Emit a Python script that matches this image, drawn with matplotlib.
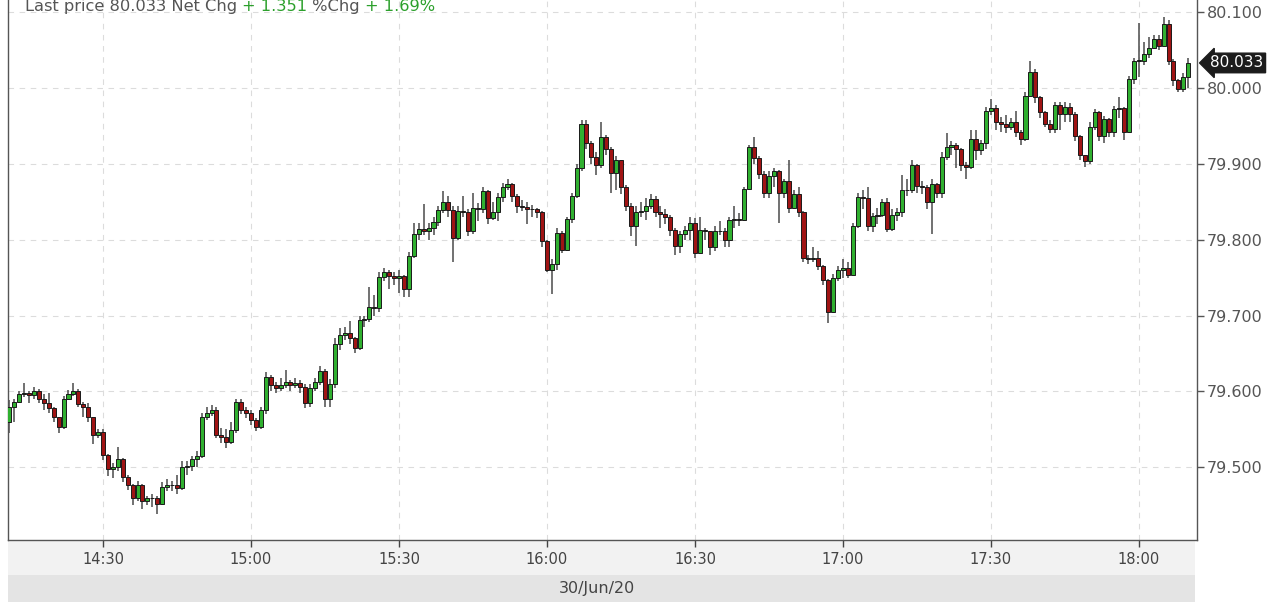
import matplotlib
matplotlib.use("Agg")
import matplotlib.pyplot as plt
import matplotlib.dates as mdates
from matplotlib.patches import Rectangle
import numpy as np
import pandas as pd

# 1-minute candles, 30/Jun/20, starting 14:11
start = "2020-06-30 14:11"
first_open = 79.560

close = [
    79.580, 79.586, 79.596, 79.598, 79.595, 79.600, 79.590, 79.584, 79.578, 79.566,
    79.553, 79.590, 79.597, 79.600, 79.583, 79.580, 79.566, 79.543, 79.546, 79.516,
    79.498, 79.500, 79.511, 79.487, 79.476, 79.459, 79.476, 79.455, 79.460, 79.459,
    79.452, 79.474, 79.477, 79.476, 79.473, 79.500, 79.501, 79.511, 79.515, 79.566,
    79.572, 79.575, 79.542, 79.540, 79.533, 79.549, 79.586, 79.575, 79.572, 79.562,
    79.553, 79.575, 79.619, 79.608, 79.605, 79.608, 79.612, 79.608, 79.611, 79.606,
    79.585, 79.605, 79.612, 79.627, 79.590, 79.610, 79.663, 79.674, 79.677, 79.670,
    79.657, 79.694, 79.696, 79.711, 79.710, 79.751, 79.758, 79.752, 79.750, 79.752,
    79.735, 79.779, 79.808, 79.814, 79.812, 79.815, 79.823, 79.839, 79.850, 79.839,
    79.802, 79.838, 79.837, 79.812, 79.842, 79.840, 79.864, 79.829, 79.836, 79.856,
    79.870, 79.873, 79.858, 79.845, 79.843, 79.841, 79.840, 79.836, 79.798, 79.760,
    79.768, 79.809, 79.787, 79.827, 79.858, 79.895, 79.953, 79.927, 79.909, 79.898,
    79.935, 79.920, 79.888, 79.905, 79.870, 79.845, 79.818, 79.836, 79.838, 79.844,
    79.853, 79.836, 79.834, 79.830, 79.813, 79.791, 79.807, 79.813, 79.822, 79.782,
    79.813, 79.811, 79.790, 79.811, 79.812, 79.800, 79.826, 79.827, 79.826, 79.867,
    79.922, 79.908, 79.887, 79.862, 79.884, 79.890, 79.862, 79.878, 79.842, 79.860,
    79.836, 79.776, 79.775, 79.776, 79.765, 79.747, 79.705, 79.750, 79.760, 79.762,
    79.754, 79.818, 79.856, 79.855, 79.818, 79.831, 79.832, 79.849, 79.814, 79.832,
    79.836, 79.865, 79.866, 79.898, 79.871, 79.870, 79.850, 79.873, 79.862, 79.909,
    79.922, 79.925, 79.919, 79.898, 79.896, 79.933, 79.918, 79.928, 79.970, 79.974,
    79.955, 79.952, 79.948, 79.955, 79.942, 79.933, 79.990, 80.021, 79.988, 79.968,
    79.953, 79.946, 79.977, 79.966, 79.975, 79.966, 79.937, 79.911, 79.904, 79.948,
    79.968, 79.937, 79.959, 79.942, 79.972, 79.973, 79.942, 80.012, 80.036, 80.036,
    80.045, 80.053, 80.064, 80.056, 80.084, 80.036, 80.010, 79.999, 80.014, 80.033,
]

high = [
    79.588, 79.590, 79.600, 79.611, 79.600, 79.606, 79.603, 79.596, 79.598, 79.580,
    79.566, 79.594, 79.602, 79.611, 79.603, 79.586, 79.584, 79.566, 79.550, 79.550,
    79.518, 79.505, 79.527, 79.512, 79.490, 79.478, 79.482, 79.478, 79.462, 79.465,
    79.462, 79.480, 79.485, 79.482, 79.490, 79.508, 79.508, 79.515, 79.522, 79.572,
    79.580, 79.582, 79.580, 79.552, 79.550, 79.560, 79.590, 79.590, 79.580, 79.575,
    79.565, 79.580, 79.625, 79.622, 79.612, 79.618, 79.628, 79.615, 79.618, 79.615,
    79.610, 79.610, 79.618, 79.633, 79.630, 79.616, 79.670, 79.683, 79.685, 79.693,
    79.672, 79.700, 79.700, 79.738, 79.727, 79.757, 79.763, 79.760, 79.757, 79.760,
    79.753, 79.784, 79.822, 79.822, 79.847, 79.822, 79.830, 79.845, 79.864, 79.858,
    79.845, 79.845, 79.858, 79.840, 79.862, 79.848, 79.870, 79.866, 79.850, 79.862,
    79.875, 79.880, 79.875, 79.860, 79.852, 79.850, 79.846, 79.842, 79.838, 79.800,
    79.775, 79.815, 79.812, 79.830, 79.862, 79.900, 79.958, 79.958, 79.930, 79.915,
    79.955, 79.938, 79.922, 79.910, 79.905, 79.872, 79.848, 79.845, 79.850, 79.855,
    79.860, 79.858, 79.845, 79.840, 79.832, 79.815, 79.812, 79.818, 79.830, 79.828,
    79.830, 79.816, 79.812, 79.818, 79.825, 79.815, 79.830, 79.845, 79.835, 79.870,
    79.925, 79.935, 79.910, 79.890, 79.890, 79.895, 79.892, 79.880, 79.905, 79.865,
    79.870, 79.838, 79.780, 79.790, 79.785, 79.767, 79.748, 79.755, 79.765, 79.775,
    79.770, 79.822, 79.862, 79.865, 79.870, 79.835, 79.842, 79.853, 79.855, 79.840,
    79.842, 79.885, 79.880, 79.905, 79.900, 79.878, 79.872, 79.880, 79.875, 79.915,
    79.940, 79.930, 79.928, 79.921, 79.903, 79.945, 79.945, 79.932, 79.975, 79.985,
    79.978, 79.962, 79.965, 79.960, 79.970, 79.945, 79.995, 80.035, 80.025, 79.990,
    79.970, 79.958, 79.982, 79.982, 79.982, 79.980, 79.968, 79.938, 79.912, 79.955,
    79.972, 79.970, 79.963, 79.960, 79.976, 79.988, 79.975, 80.016, 80.040, 80.086,
    80.060, 80.067, 80.070, 80.070, 80.093, 80.090, 80.038, 80.012, 80.020, 80.040,
]

low = [
    79.545, 79.560, 79.584, 79.592, 79.585, 79.590, 79.585, 79.576, 79.572, 79.560,
    79.545, 79.550, 79.588, 79.594, 79.580, 79.566, 79.560, 79.530, 79.538, 79.510,
    79.488, 79.486, 79.495, 79.480, 79.470, 79.450, 79.455, 79.445, 79.450, 79.448,
    79.438, 79.450, 79.468, 79.468, 79.465, 79.470, 79.490, 79.495, 79.500, 79.512,
    79.562, 79.568, 79.538, 79.532, 79.525, 79.530, 79.545, 79.570, 79.565, 79.555,
    79.548, 79.550, 79.570, 79.600, 79.598, 79.600, 79.604, 79.600, 79.604, 79.598,
    79.578, 79.580, 79.600, 79.608, 79.580, 79.580, 79.605, 79.655, 79.668, 79.662,
    79.650, 79.655, 79.685, 79.692, 79.700, 79.705, 79.745, 79.735, 79.740, 79.730,
    79.725, 79.725, 79.776, 79.800, 79.806, 79.800, 79.806, 79.818, 79.835, 79.830,
    79.771, 79.800, 79.830, 79.805, 79.808, 79.825, 79.835, 79.820, 79.826, 79.825,
    79.850, 79.865, 79.850, 79.835, 79.838, 79.820, 79.830, 79.828, 79.790, 79.757,
    79.728, 79.760, 79.782, 79.785, 79.822, 79.855, 79.890, 79.920, 79.900, 79.885,
    79.895, 79.912, 79.862, 79.865, 79.860, 79.838, 79.805, 79.791, 79.830, 79.826,
    79.840, 79.830, 79.815, 79.820, 79.805, 79.780, 79.782, 79.800, 79.800, 79.776,
    79.782, 79.800, 79.780, 79.785, 79.806, 79.790, 79.790, 79.815, 79.818, 79.825,
    79.865, 79.900, 79.880, 79.855, 79.855, 79.870, 79.822, 79.855, 79.835, 79.840,
    79.830, 79.770, 79.768, 79.770, 79.760, 79.740, 79.690, 79.703, 79.745, 79.750,
    79.750, 79.752, 79.815, 79.840, 79.812, 79.810, 79.820, 79.830, 79.810, 79.812,
    79.825, 79.830, 79.858, 79.862, 79.862, 79.860, 79.840, 79.808, 79.855, 79.855,
    79.905, 79.912, 79.895, 79.890, 79.880, 79.893, 79.905, 79.912, 79.920, 79.965,
    79.945, 79.942, 79.940, 79.945, 79.936, 79.925, 79.930, 79.990, 79.980, 79.960,
    79.948, 79.940, 79.940, 79.945, 79.955, 79.955, 79.930, 79.905, 79.896, 79.900,
    79.945, 79.930, 79.928, 79.935, 79.935, 79.960, 79.932, 79.940, 80.005, 80.014,
    80.030, 80.040, 80.052, 80.050, 80.055, 80.030, 80.002, 79.995, 79.995, 80.000,
]

yticks = [79.5, 79.6, 79.7, 79.8, 79.9, 80.0, 80.1]
xtick_times = ["14:30", "15:00", "15:30", "16:00", "16:30", "17:00", "17:30", "18:00"]
last_price = 80.033
header = [("Last price 80.033 Net Chg ", "#555555"), ("+ 1.351", "#2ca02c"),
          (" %Chg ", "#555555"), ("+ 1.69%", "#2ca02c")]
date_label = "30/Jun/20"

# ---------------------------------------------------------------
c = np.array(close)
o = np.concatenate([[first_open], c[:-1]])
h = np.maximum(np.array(high), np.maximum(o, c))
l = np.minimum(np.array(low), np.minimum(o, c))
t = mdates.date2num(pd.date_range(start, periods=len(c), freq="1min"))

W, H = 1280, 605
fig = plt.figure(figsize=(W / 100, H / 100), dpi=100)
fig.patch.set_facecolor("white")

# x-axis area backgrounds (behind the axes)
fig.patches.append(Rectangle((8 / W, 1 - 575 / H), (1195 - 8) / W, 35 / H,
                             transform=fig.transFigure, fc="#f2f2f2", ec="none", zorder=-5))
fig.patches.append(Rectangle((8 / W, 1 - 602 / H), (1195 - 8) / W, 27 / H,
                             transform=fig.transFigure, fc="#e4e4e4", ec="none", zorder=-5))

ax = fig.add_axes([8 / W, 1 - 540 / H, (1197 - 8) / W, 540 / H])
ax.set_facecolor("white")

day0 = mdates.date2num(pd.Timestamp("2020-06-30"))
minute = 1 / 1440
ax.set_xlim(day0 + 850.74 * minute, day0 + 1091.77 * minute)
ax.set_ylim(79.404, 80.116)

up = c >= o
green = "#30b030"
red = "#a01414"
edge = "#1a1a1a"

ax.vlines(t, l, h, color="#4a4a4a", linewidth=1.1, zorder=2)
body = np.maximum(np.abs(c - o), 0.0007)
bottom = np.minimum(o, c)
colors = np.where(up, green, red)
ax.bar(t, body, bottom=bottom, width=0.82 * minute, color=colors,
       edgecolor=edge, linewidth=0.7, zorder=3)

# grid
ax.set_yticks(yticks)
xt = [mdates.date2num(pd.Timestamp("2020-06-30 " + s)) for s in xtick_times]
ax.set_xticks(xt)
ax.set_xticklabels(xtick_times)
ax.set_yticklabels([f"{v:.3f}" for v in yticks])
ax.grid(True, color="#dcdcdc", linestyle=(0, (5, 5)), linewidth=0.8, zorder=0)

ax.yaxis.tick_right()
ax.tick_params(axis="y", colors="#555555", labelsize=11.5, length=5, pad=2, width=1)
ax.tick_params(axis="x", colors="#444444", labelsize=10.5, length=5, pad=4, width=1)

for side in ["left", "bottom", "right"]:
    ax.spines[side].set_color("#555555")
    ax.spines[side].set_linewidth(1.0)
ax.spines["top"].set_visible(False)

# last price tag
ax.text(1.0 + 13 / (1197 - 8), last_price, f"{last_price:.3f}",
        transform=ax.get_yaxis_transform(),
        color="white", fontsize=11, va="center", ha="left",
        bbox=dict(boxstyle="larrow,pad=0.15", fc="#1c1c1c", ec="#1c1c1c"),
        zorder=5, clip_on=False)

# date band label
fig.text(597 / W, 1 - 589 / H, date_label, ha="center", va="center",
         fontsize=11.5, color="#444444")

# header (partially cut by top edge)
renderer = fig.canvas.get_renderer()
x0 = 25
for s, col in header:
    tx = fig.text(x0 / W, 1 - 11 / H, s, ha="left", va="baseline",
                  fontsize=11.7, color=col)
    bb = tx.get_window_extent(renderer)
    x0 += bb.width

fig.savefig("out.png", dpi=100)
